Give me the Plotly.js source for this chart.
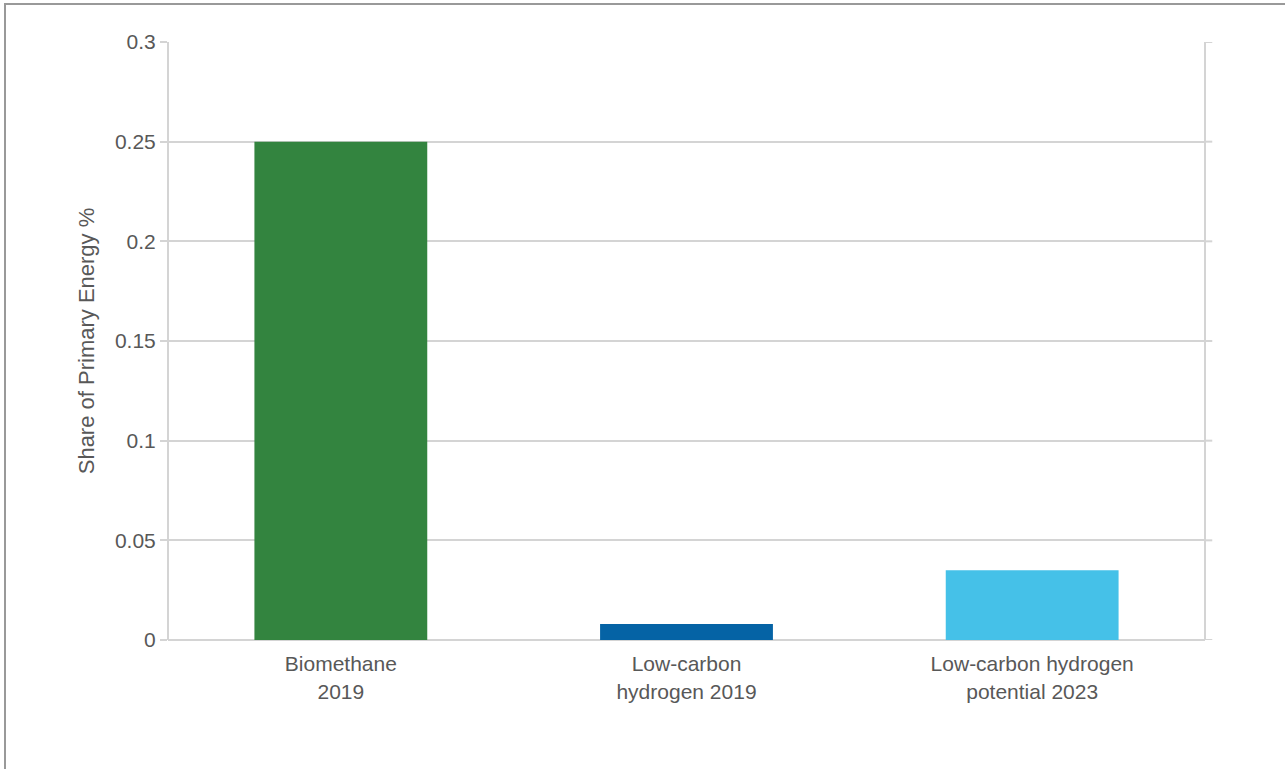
<!DOCTYPE html>
<html>
<head>
<meta charset="utf-8">
<script src="https://cdn.plot.ly/plotly-3.0.1.min.js"></script>
<style>
  html, body { margin: 0; padding: 0; background: #fff; }
  #frame { position: absolute; left: 4px; top: 3px; width: 1281px; height: 766px;
           border-top: 2px solid #999; border-left: 2px solid #999; box-sizing: border-box; }
  #chart { position: absolute; left: 0; top: 0; width: 1285px; height: 769px; }
</style>
</head>
<body>
<div id="chart"></div>
<div id="frame"></div>
<script>
const categories = ["Biomethane<br>2019", "Low-carbon<br>hydrogen 2019", "Low-carbon hydrogen<br>potential 2023"];
const shareValues = [0.25, 0.008, 0.035];
const barColors = ["#33843f", "#0563a5", "#45c1e8"];
const yTickValues = [0, 0.05, 0.1, 0.15, 0.2, 0.25, 0.3];
const yTickLabels = ["0", "0.05", "0.1", "0.15", "0.2", "0.25", "0.3"];

const trace = {
  type: "bar",
  x: categories,
  y: shareValues,
  marker: { color: barColors },
  hoverinfo: "x+y"
};

const lineColor = "#d4d4d4";
const textColor = "#585858";
const layout = {
  width: 1285, height: 769,
  margin: { l: 168, r: 80, t: 42, b: 129 },
  paper_bgcolor: "#ffffff",
  plot_bgcolor: "#ffffff",
  bargap: 0.5,
  showlegend: false,
  font: { family: "Liberation Sans, Arial, sans-serif", color: textColor, size: 20 },
  xaxis: {
    showgrid: false, showline: false, zeroline: false,
    ticks: "outside", ticklen: 5, tickcolor: "rgba(0,0,0,0)",
    tickfont: { size: 21, color: textColor }
  },
  yaxis: {
    range: [0, 0.3],
    tickvals: yTickValues, ticktext: yTickLabels,
    showgrid: true, gridcolor: lineColor, gridwidth: 2,
    zeroline: true, zerolinecolor: lineColor, zerolinewidth: 2,
    showline: false,
    ticks: "outside", ticklen: 7, tickcolor: lineColor, tickwidth: 2,
    tickfont: { size: 21, color: textColor },
    title: { text: "Share of Primary Energy %", font: { size: 22, color: textColor }, standoff: 14 }
  },
  shapes: [
    { type: "line", xref: "paper", yref: "y", x0: 0, x1: 0, y0: -0.014, y1: 0.303,
      line: { color: lineColor, width: 2 } },
    { type: "line", xref: "paper", yref: "y", x0: 1, x1: 1, y0: -0.004, y1: 0.303,
      line: { color: lineColor, width: 2 } }
  ]
};

// right-side tick marks mirrored
yTickValues.forEach(v => {
  layout.shapes.push({ type: "line", xref: "paper", yref: "y", x0: 1, x1: 1.007, y0: v, y1: v,
    line: { color: lineColor, width: 2 } });
});

Plotly.newPlot("chart", [trace], layout, { displayModeBar: false, staticPlot: true });
</script>
</body>
</html>
